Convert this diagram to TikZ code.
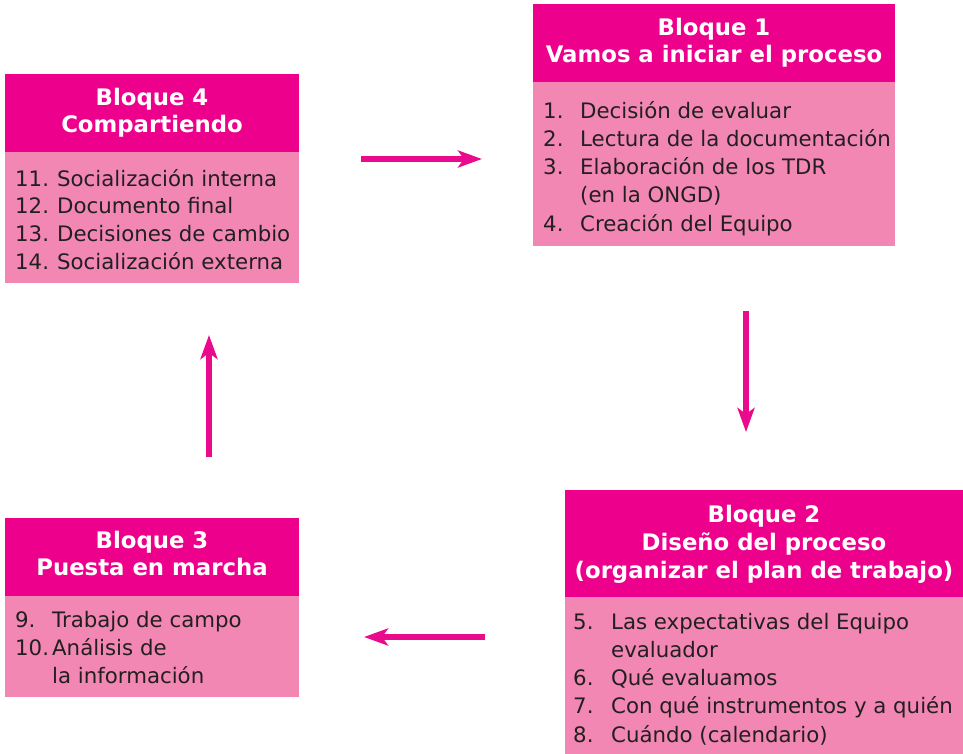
\documentclass[tikz,border=0pt]{standalone}
\usepackage{fontspec}
\setmainfont{DejaVu Sans}
\usetikzlibrary{arrows.meta}
\definecolor{hdr}{HTML}{EC008C}
\definecolor{bdy}{HTML}{F287B4}
\definecolor{txt}{HTML}{231F20}
\definecolor{arr}{HTML}{EA0A8C}
\tikzset{
  hdrbox/.style={fill=hdr, draw=none, inner sep=0pt, outer sep=0pt, anchor=north west},
  bdybox/.style={fill=bdy, draw=none, inner sep=0pt, outer sep=0pt, anchor=north west},
  hdrtext/.style={text=white, inner sep=0pt, anchor=base, font=\fontsize{22.8}{27}\selectfont\bfseries},
  itemtext/.style={text=txt, inner sep=0pt, anchor=base west, font=\fontsize{21.3}{28}\selectfont},
  flow/.style={draw=arr, line width=6pt, -{Stealth[length=24pt,width=17pt,inset=6pt]}}
}
\newcommand{\itm}[2]{\makebox[#1][l]{#2}}
\begin{document}
\begin{tikzpicture}[x=1pt,y=-1pt]
\useasboundingbox (0,0) rectangle (963,754);
% Bloque 4
\node[hdrbox, minimum width=294pt, minimum height=78pt] (h4) at (5,74) {};
\node[bdybox, minimum width=294pt, minimum height=131pt] (c4) at (5,152) {};
\node[hdrtext] (h4a) at (152,106) {Bloque 4};
\node[hdrtext] (h4b) at (152,133) {Compartiendo};
\node[itemtext] (i11) at (15,186) {\itm{42pt}{11.}Socialización interna};
\node[itemtext] (i12) at (15,213.7) {\itm{42pt}{12.}Documento final};
\node[itemtext] (i13) at (15,241.3) {\itm{42pt}{13.}Decisiones de cambio};
\node[itemtext] (i14) at (15,269) {\itm{42pt}{14.}Socialización externa};
% Bloque 1
\node[hdrbox, minimum width=362pt, minimum height=78pt] (h1) at (533,4) {};
\node[bdybox, minimum width=362pt, minimum height=164pt] (c1) at (533,82) {};
\node[hdrtext] (h1a) at (714,36) {Bloque 1};
\node[hdrtext] (h1b) at (714,63) {Vamos a iniciar el proceso};
\node[itemtext] (i1) at (543,119) {\itm{37pt}{1.}Decisión de evaluar};
\node[itemtext] (i2) at (543,147) {\itm{37pt}{2.}Lectura de la documentación};
\node[itemtext] (i3) at (543,175) {\itm{37pt}{3.}Elaboración de los TDR};
\node[itemtext] (i3b) at (543,203) {\itm{37pt}{}(en la ONGD)};
\node[itemtext] (i4) at (543,231) {\itm{37pt}{4.}Creación del Equipo};
% Bloque 2
\node[hdrbox, minimum width=398pt, minimum height=107pt] (h2) at (565,490) {};
\node[bdybox, minimum width=398pt, minimum height=157pt] (c2) at (565,597) {};
\node[hdrtext] (h2a) at (764,522) {Bloque 2};
\node[hdrtext] (h2b) at (764,550) {Diseño del proceso};
\node[hdrtext] (h2c) at (764,578) {(organizar el plan de trabajo)};
\node[itemtext] (i5) at (573,629) {\itm{38pt}{5.}Las expectativas del Equipo};
\node[itemtext] (i5b) at (573,657) {\itm{38pt}{}evaluador};
\node[itemtext] (i6) at (573,685) {\itm{38pt}{6.}Qué evaluamos};
\node[itemtext] (i7) at (573,713) {\itm{38pt}{7.}Con qué instrumentos y a quién};
\node[itemtext] (i8) at (573,742) {\itm{38pt}{8.}Cuándo (calendario)};
% Bloque 3
\node[hdrbox, minimum width=294pt, minimum height=78pt] (h3) at (5,518) {};
\node[bdybox, minimum width=294pt, minimum height=101pt] (c3) at (5,596) {};
\node[hdrtext] (h3a) at (152,548) {Bloque 3};
\node[hdrtext] (h3b) at (152,575) {Puesta en marcha};
\node[itemtext] (i9) at (15,627) {\itm{37pt}{9.}Trabajo de campo};
\node[itemtext] (i10) at (15,655) {\itm{37pt}{10.}Análisis de};
\node[itemtext] (i10b) at (15,683) {\itm{37pt}{}la información};
% arrows
\coordinate (a1s) at (361,159); \coordinate (a1e) at (482,159);
\coordinate (a2s) at (746,311); \coordinate (a2e) at (746,432);
\coordinate (a3s) at (485,637); \coordinate (a3e) at (364,637);
\coordinate (a4s) at (209,457); \coordinate (a4e) at (209,335);
\draw[flow] (a1s) -- (a1e);
\draw[flow] (a2s) -- (a2e);
\draw[flow] (a3s) -- (a3e);
\draw[flow] (a4s) -- (a4e);
\end{tikzpicture}
\end{document}
